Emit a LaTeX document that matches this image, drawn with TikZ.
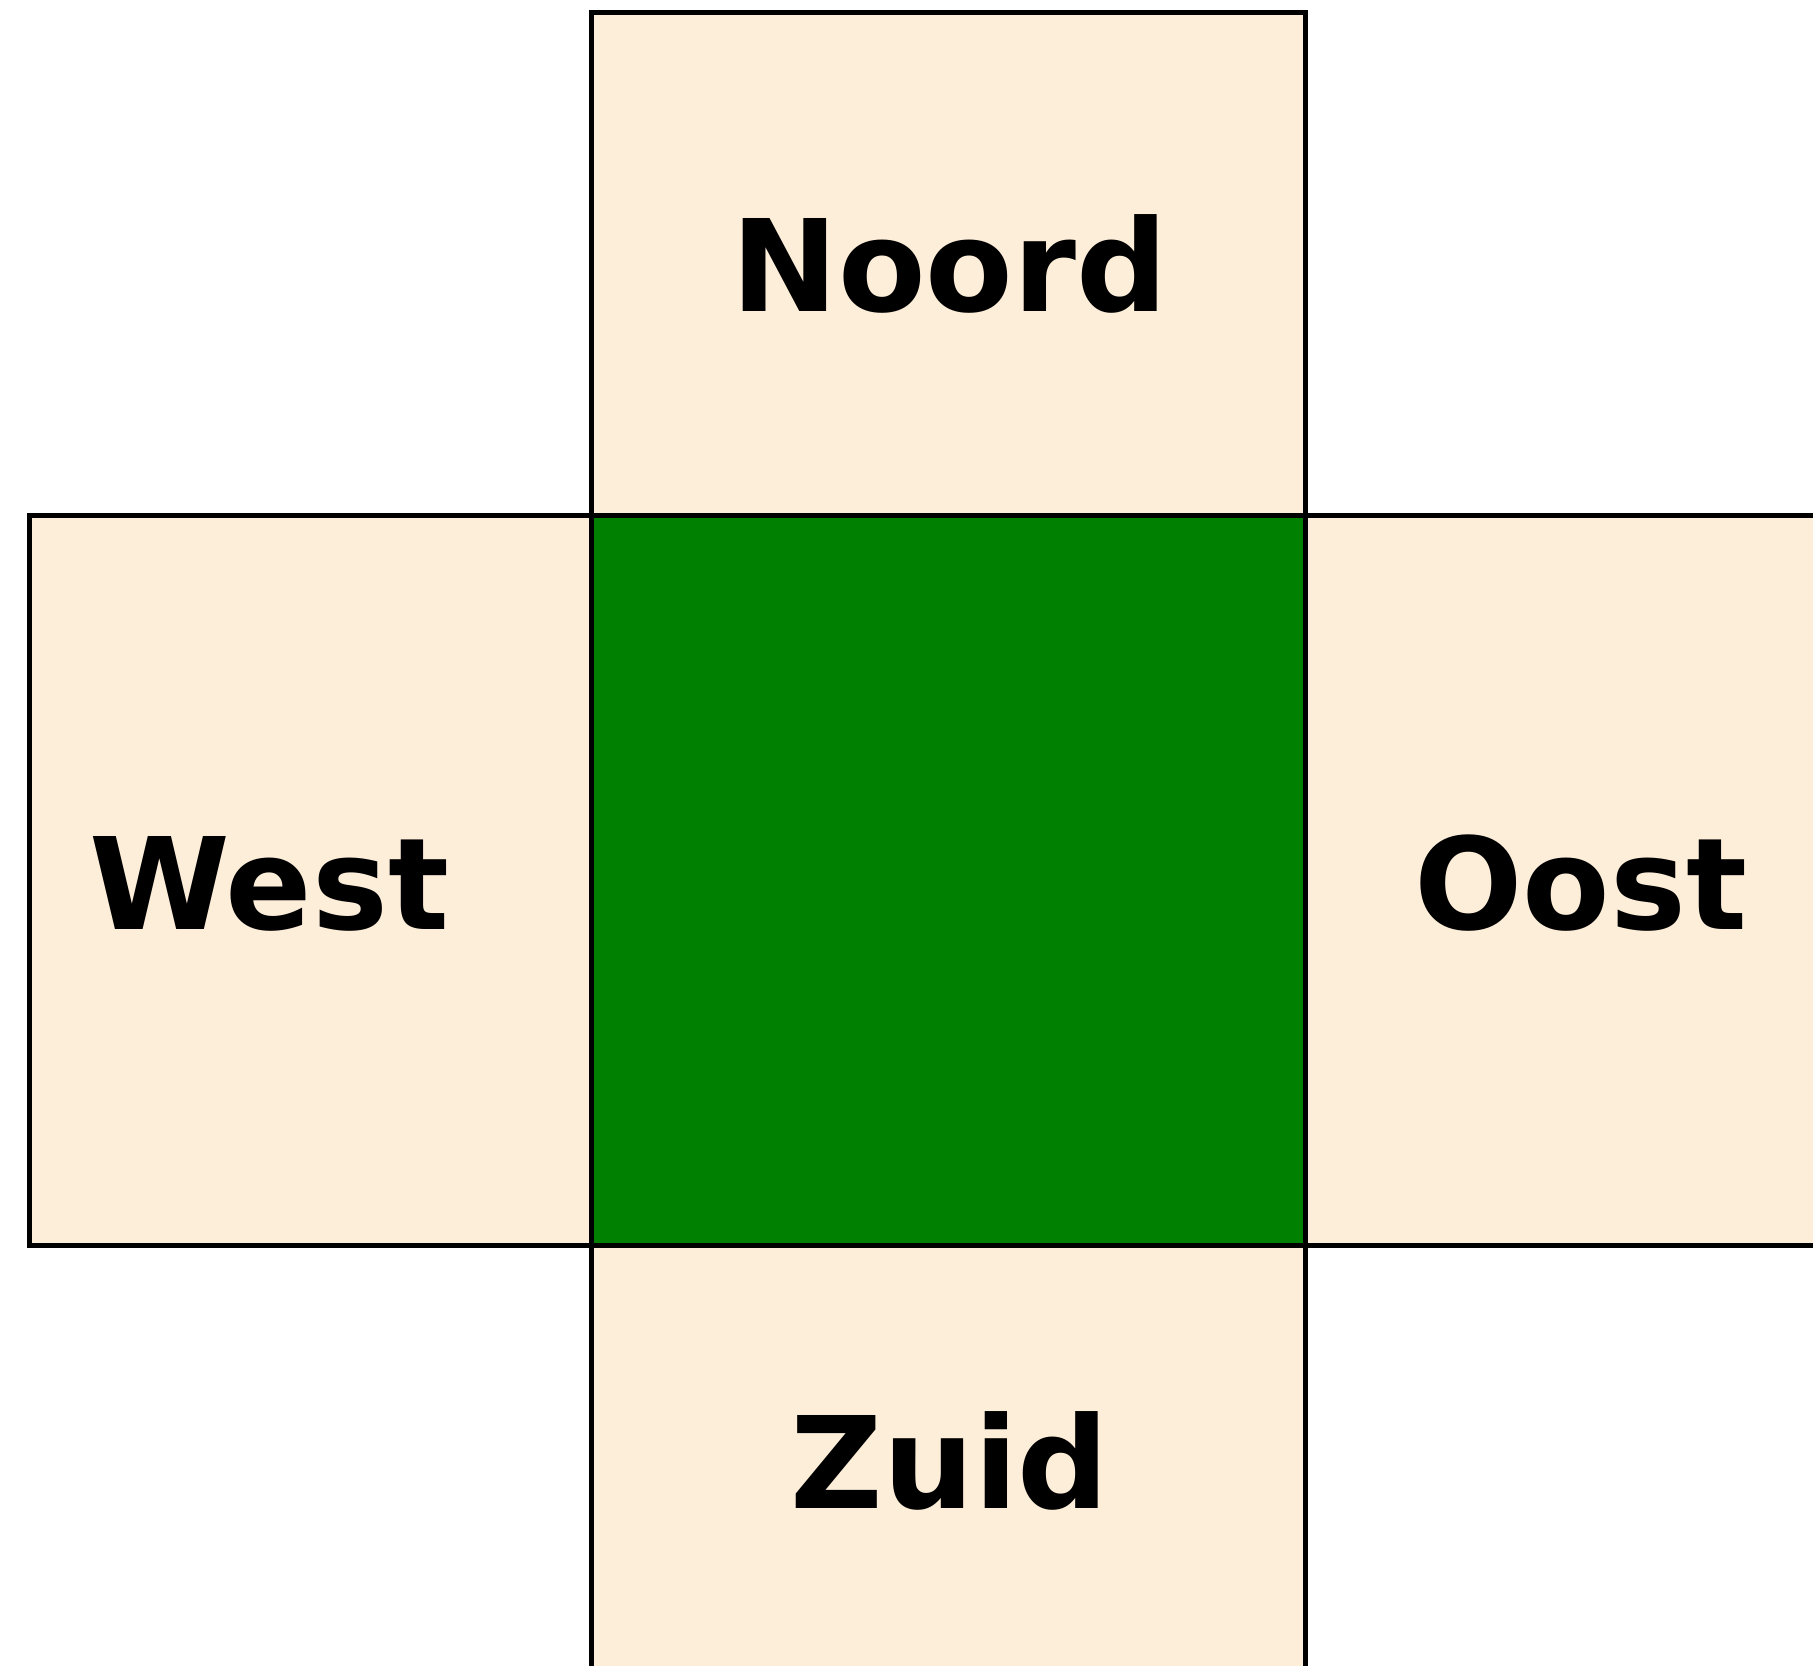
\documentclass[tikz,border=0pt]{standalone}
\usepackage{fontspec}
\setmainfont{DejaVu Sans}
\definecolor{peach}{HTML}{FDEEDA}
\definecolor{centergreen}{HTML}{008000}
\begin{document}
\begin{tikzpicture}[x=0.5pt,y=-0.5pt,
  box/.style={fill=peach,draw=black,line width=2.5pt},
  mid/.style={fill=centergreen,draw=black,line width=2.5pt},
  lbl/.style={inner sep=0pt,anchor=base,font=\fontsize{63.8pt}{70pt}\selectfont\bfseries}]
\useasboundingbox (0,0) rectangle (1813,1665);
\clip (0,0) rectangle (1813,1665);
% boxes
\draw[box] (591.5,12.5) rectangle (1305.5,515);
\draw[box] (29.5,515) rectangle (591.5,1245.5);
\draw[box] (1305.5,515) rectangle (1900,1245.5);
\draw[box] (591.5,1245.5) rectangle (1305.5,1760);
\draw[mid] (591.5,515) rectangle (1305.5,1245.5);
% labels
\node[lbl] (noord) at (949.4,311) {Noord};
\node[lbl] (west) at (269.5,929.3) {West};
\node[lbl] (oost) at (1580.9,929.3) {Oost};
\node[lbl] (zuid) at (950,1508.3) {Zuid};
\end{tikzpicture}
\end{document}
